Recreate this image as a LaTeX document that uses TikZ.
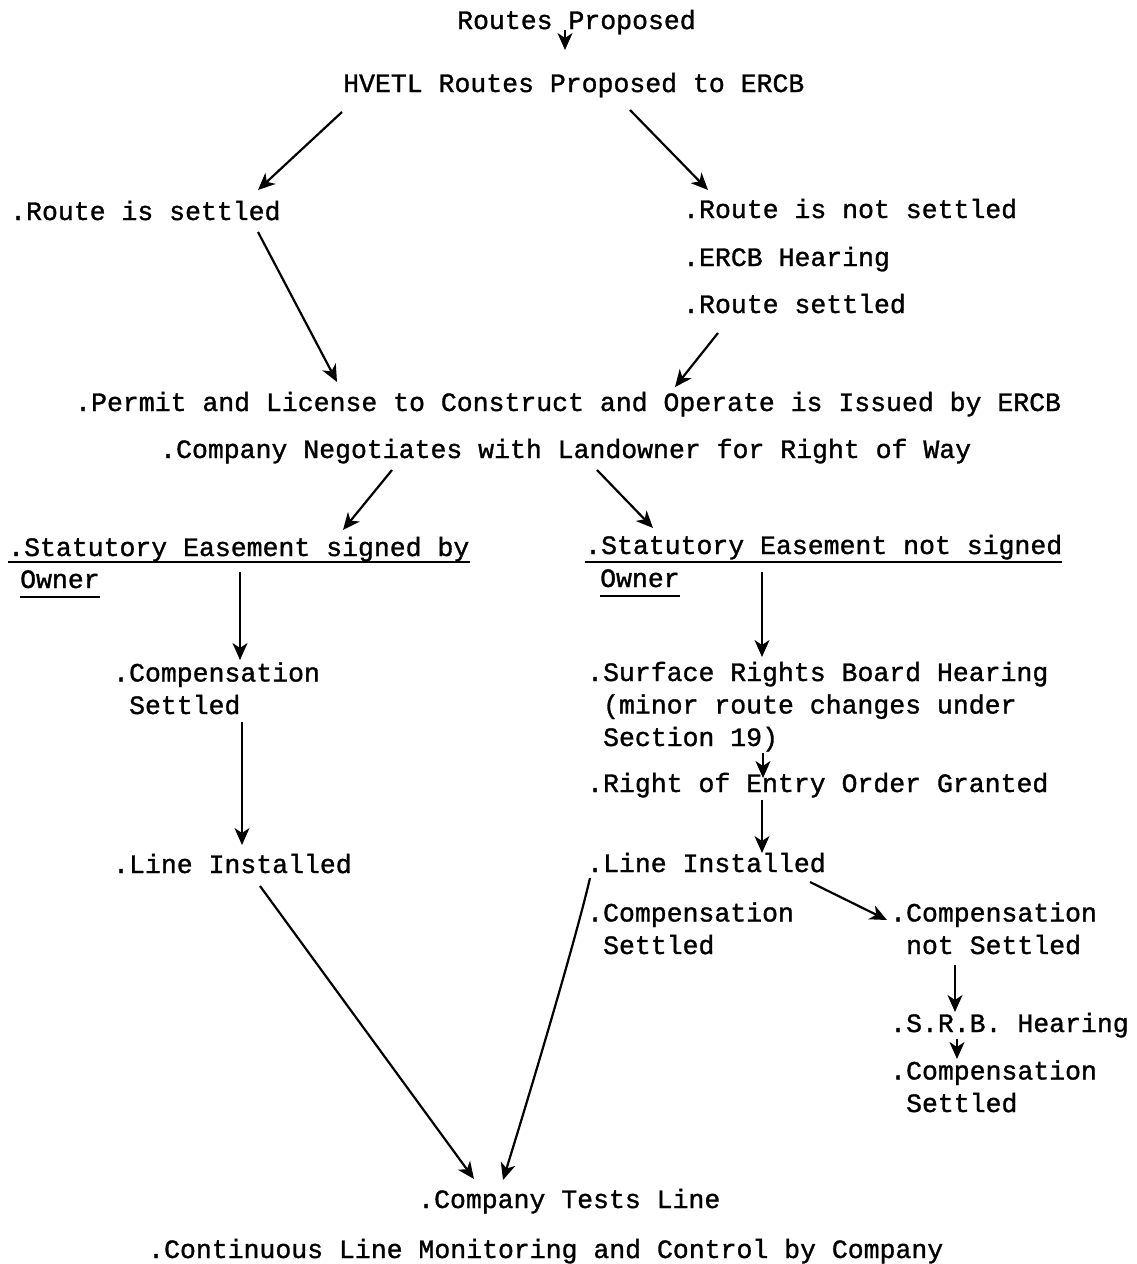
\documentclass[tikz,border=0pt]{standalone}
\usepackage{fontspec}
\setmonofont{Liberation Mono}[BoldFont=Liberation Mono, BoldFeatures={FakeBold=1.2}]
\usetikzlibrary{arrows.meta}
\begin{document}
\begin{tikzpicture}[x=1pt,y=-1pt,
  txt/.style={anchor=base west,inner sep=0pt,font=\ttfamily\bfseries\fontsize{26.5}{32.5}\selectfont,align=left},
  arr/.style={line width=2.2pt,-{Stealth[length=17pt,width=15pt,inset=5pt]}},
  ul/.style={line width=1.6pt}]
\useasboundingbox[fill=white] (0,0) rectangle (1137,1264);

\node[txt] (rp)   at (457,29)  {Routes Proposed};
\node[txt] (hv)   at (343,92)  {HVETL Routes Proposed to ERCB};
\node[txt] (rs)   at (10,220)  {.Route is settled};
\node[txt] (rns)  at (683,218) {.Route is not settled};
\node[txt] (eh)   at (683,266) {.ERCB Hearing};
\node[txt] (rst)  at (683,313) {.Route settled};
\node[txt] (pl)   at (75,411)  {.Permit and License to Construct and Operate is Issued by ERCB};
\node[txt] (cn)   at (160,458) {.Company Negotiates with Landowner for Right of Way};
\node[txt] (sl)   at (8,556)   {.Statutory Easement signed by};
\node[txt] (ol)   at (20,588)  {Owner};
\node[txt] (sr)   at (585,554) {.Statutory Easement not signed};
\node[txt] (or)   at (600,587) {Owner};
% multi-line nodes: base anchor sits on the last line
\node[txt] (csl)  at (113,714) {.Compensation\\\phantom{.}Settled};
\node[txt] (lil)  at (113,873) {.Line Installed};
\node[txt] (srb)  at (587,746) {.Surface Rights Board Hearing\\\phantom{.}(minor route changes under\\\phantom{.}Section 19)};
\node[txt] (roe)  at (587,792) {.Right of Entry Order Granted};
\node[txt] (lir)  at (587,872) {.Line Installed};
\node[txt] (csr)  at (587,954) {.Compensation\\\phantom{.}Settled};
\node[txt] (cns)  at (890,954) {.Compensation\\\phantom{.}not Settled};
\node[txt] (sh)   at (890,1032) {.S.R.B. Hearing};
\node[txt] (cs2)  at (890,1112) {.Compensation\\\phantom{.}Settled};
\node[txt] (ctl)  at (418,1208) {.Company Tests Line};
\node[txt] (clm)  at (148,1258) {.Continuous Line Monitoring and Control by Company};

% underlines
\draw[ul] ([yshift=-6pt]sl.base west) -- ([yshift=-6pt]sl.base east);
\draw[ul] ([yshift=-9pt]ol.base west) -- ([yshift=-9pt]ol.base east);
\draw[ul] ([yshift=-8pt]sr.base west) -- ([yshift=-8pt]sr.base east);
\draw[ul] ([yshift=-9pt]or.base west) -- ([yshift=-9pt]or.base east);

% connector end points
\coordinate (a1s) at (565,30);   \coordinate (a1e) at (565,50);
\coordinate (a2s) at (342,112);  \coordinate (a2e) at (258,190);
\coordinate (a3s) at (630,110);  \coordinate (a3e) at (708,190);
\coordinate (a4s) at (258,232);  \coordinate (a4e) at (337,382);
\coordinate (a5s) at (718,333);  \coordinate (a5e) at (675,387);
\coordinate (a6s) at (392,470);  \coordinate (a6e) at (343,530);
\coordinate (a7s) at (597,470);  \coordinate (a7e) at (653,528);
\coordinate (a8s) at (240,572);  \coordinate (a8e) at (240,660);
\coordinate (a9s) at (242,722);  \coordinate (a9e) at (242,845);
\coordinate (a10s) at (762,572); \coordinate (a10e) at (762,657);
\coordinate (a11s) at (763,753); \coordinate (a11e) at (763,778);
\coordinate (a12s) at (762,800); \coordinate (a12e) at (762,853);
\coordinate (a13s) at (810,882); \coordinate (a13e) at (887,920);
\coordinate (a14s) at (955,965); \coordinate (a14e) at (955,1012);
\coordinate (a15s) at (957,1039);\coordinate (a15e) at (957,1059);
\coordinate (a16s) at (260,886); \coordinate (a16e) at (474,1179);
\coordinate (a17s) at (590,878); \coordinate (a17e) at (503,1180);

\draw[arr] (a1s) -- (a1e);
\draw[arr] (a2s) -- (a2e);
\draw[arr] (a3s) -- (a3e);
\draw[arr] (a4s) -- (a4e);
\draw[arr] (a5s) -- (a5e);
\draw[arr] (a6s) -- (a6e);
\draw[arr] (a7s) -- (a7e);
\draw[arr] (a8s) -- (a8e);
\draw[arr] (a9s) -- (a9e);
\draw[arr] (a10s) -- (a10e);
\draw[arr] (a11s) -- (a11e);
\draw[arr] (a12s) -- (a12e);
\draw[arr] (a13s) -- (a13e);
\draw[arr] (a14s) -- (a14e);
\draw[arr] (a15s) -- (a15e);
\draw[arr] (a16s) -- (a16e);
\draw[arr] (a17s) .. controls (578,930) and (540,1060) .. (a17e);
\end{tikzpicture}
\end{document}
